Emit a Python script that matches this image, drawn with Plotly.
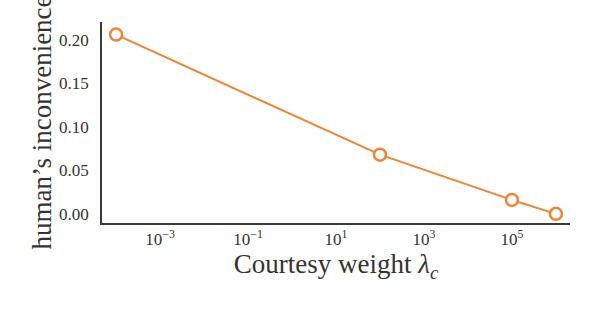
import plotly.graph_objects as go

# Data
courtesy_weight = [1e-4, 1e2, 1e5, 1e6]
inconvenience = [0.206, 0.068, 0.016, 0.0]

x_tick_vals = [1e-3, 1e-1, 1e1, 1e3, 1e5]
x_tick_text = ["10<sup>−3</sup>", "10<sup>−1</sup>", "10<sup>1</sup>", "10<sup>3</sup>", "10<sup>5</sup>"]
y_tick_vals = [0.0, 0.05, 0.10, 0.15, 0.20]
y_tick_text = ["0.00", "0.05", "0.10", "0.15", "0.20"]
x_title = "Courtesy weight <i>λ</i><sub><i>c</i></sub>"
y_title = "human’s inconvenience"

orange = "#ee8438"
axis_color = "#3a3a3a"
text_color = "#333333"
font_family = "Liberation Serif, DejaVu Serif, serif"

fig = go.Figure()
fig.add_trace(go.Scatter(
    x=courtesy_weight,
    y=inconvenience,
    mode="lines+markers",
    line=dict(color=orange, width=2),
    marker=dict(size=12, color="white", line=dict(color=orange, width=2.5)),
    showlegend=False,
))

fig.update_layout(
    width=604,
    height=310,
    margin=dict(l=102, r=34, t=22, b=87),
    paper_bgcolor="white",
    plot_bgcolor="white",
    font=dict(family=font_family, color=text_color, size=17),
    xaxis=dict(
        type="log",
        range=[-4.32, 6.32],
        tickvals=x_tick_vals,
        ticktext=x_tick_text,
        ticks="",
        automargin=False,
        showgrid=False,
        zeroline=False,
        showline=True,
        linecolor=axis_color,
        linewidth=1.6,
        tickfont=dict(size=17, family=font_family, color=text_color),
        title=dict(text=x_title,
                   font=dict(size=27, family=font_family, color=text_color),
                   standoff=0),
    ),
    yaxis=dict(
        range=[-0.0105, 0.2205],
        tickvals=y_tick_vals,
        ticktext=y_tick_text,
        ticks="",
        automargin=False,
        showgrid=False,
        zeroline=False,
        showline=True,
        linecolor=axis_color,
        linewidth=1.6,
        ticklabelstandoff=8,
        tickfont=dict(size=17, family=font_family, color=text_color),
        title=dict(text=y_title,
                   font=dict(size=27, family=font_family, color=text_color),
                   standoff=0),
    ),
)

fig.write_html(
    "out.html",
    config={"displayModeBar": False},
    post_script="document.body.style.margin='0';document.body.style.overflow='hidden';",
)
